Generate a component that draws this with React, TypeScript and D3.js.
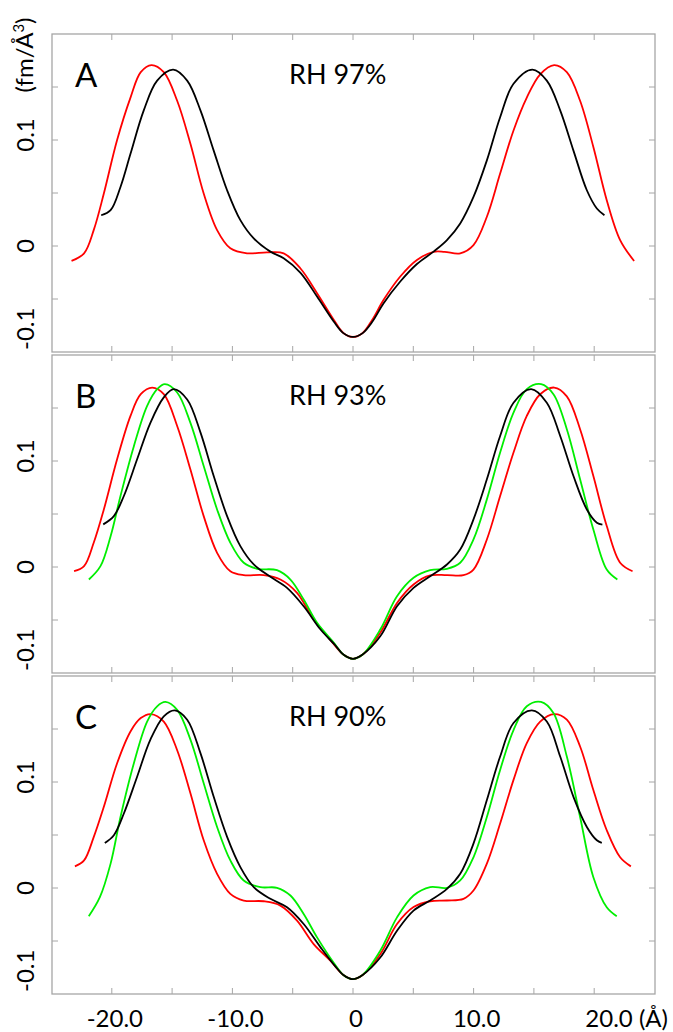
import React, { useEffect, useRef } from "react";
import * as d3 from "d3";

// axis ticks
const xTicks = [-20, -15, -10, -5, 0, 5, 10, 15, 20];
const xLabels = [
  { v: -20, t: "-20.0" },
  { v: -10, t: "-10.0" },
  { v: 0, t: "0" },
  { v: 10, t: "10.0" },
];
const yTicks = [-0.05, 0, 0.05, 0.1, 0.15];
const panelNames = ["A", "B", "C"];
const humidity = ["RH 97%", "RH 93%", "RH 90%"];

// profiles: [distance (Å), density (fm/Å³)]
const redA: [number, number][] = [
  [-23.34, -0.0141], [-22.3, -0.0069], [-21.5, 0.015], [-20.66, 0.0495], [-19.56, 0.1],
  [-18.45, 0.14], [-17.6, 0.164], [-16.71, 0.1707], [-15.69, 0.164], [-14.58, 0.137],
  [-13.48, 0.0965], [-12.38, 0.0495], [-11.27, 0.015], [-10.17, -0.0022], [-8.78, -0.0069],
  [-7.13, -0.006], [-5.75, -0.0069], [-4.37, -0.021], [-2.98, -0.0445], [-1.6, -0.0695],
  [-0.8, -0.082], [0, -0.0858], [0.8, -0.082], [1.6, -0.0695], [2.54, -0.0508],
  [3.92, -0.0288], [5.3, -0.0132], [6.68, -0.0055], [7.6, -0.0055], [8.89, -0.0069],
  [9.99, 0.0009], [11.1, 0.0276], [12.2, 0.0683], [13.31, 0.109], [14.41, 0.14],
  [15.52, 0.162], [16.68, 0.1707], [17.73, 0.164], [18.83, 0.137], [19.93, 0.0934],
  [21.04, 0.0432], [22.15, 0.0056], [23.31, -0.0141],
];
const blackA: [number, number][] = [
  [-20.88, 0.029], [-20.1, 0.0338], [-19.28, 0.0557], [-18.45, 0.087], [-17.35, 0.128],
  [-16.24, 0.156], [-14.91, 0.1664], [-13.75, 0.156], [-12.65, 0.128], [-11.55, 0.09],
  [-10.44, 0.0526], [-9.34, 0.0244], [-8.23, 0.0072], [-6.85, -0.0053], [-5.75, -0.0116],
  [-4.37, -0.0251], [-2.98, -0.0477], [-1.6, -0.0712], [-0.8, -0.0822], [0, -0.0858],
  [0.8, -0.0822], [1.6, -0.0715], [2.54, -0.054], [3.92, -0.0335], [5.3, -0.017],
  [6.68, -0.0053], [7.79, 0.0056], [8.89, 0.0213], [9.99, 0.0463], [11.1, 0.0808],
  [12.2, 0.1215], [13.31, 0.153], [14.88, 0.1664], [16.07, 0.156], [17.18, 0.128],
  [18.28, 0.09], [19.39, 0.0526], [20.22, 0.0354], [20.85, 0.029],
];

const redB: [number, number][] = [
  [-23.13, -0.004], [-22.3, 0.0008], [-21.5, 0.0229], [-20.66, 0.0543], [-19.56, 0.1016],
  [-18.45, 0.1425], [-17.6, 0.163], [-16.65, 0.1693], [-15.69, 0.163], [-14.58, 0.133],
  [-13.48, 0.092], [-12.38, 0.048], [-11.27, 0.0134], [-10.17, -0.004], [-9.06, -0.0077],
  [-7.4, -0.0077], [-6.02, -0.0118], [-4.64, -0.0244], [-3.26, -0.0496], [-1.88, -0.0688],
  [-0.8, -0.0826], [0, -0.0866], [0.8, -0.0826], [2.26, -0.062], [3.65, -0.0339],
  [5.02, -0.0165], [6.4, -0.008], [7.79, -0.0077], [9.16, -0.0077], [9.99, -0.0024],
  [11.1, 0.026], [12.2, 0.067], [13.31, 0.108], [14.41, 0.1425], [15.52, 0.163],
  [16.68, 0.1693], [17.73, 0.161], [18.83, 0.13], [19.93, 0.0858], [21.04, 0.0386],
  [22.15, 0.004], [23.18, -0.004],
];
const greenB: [number, number][] = [
  [-21.9, -0.0118], [-20.94, 0.0008], [-20.1, 0.029], [-19.28, 0.067], [-18.17, 0.114],
  [-17.07, 0.152], [-16.24, 0.1678], [-15.6, 0.1725], [-14.58, 0.1646], [-13.48, 0.136],
  [-12.38, 0.0953], [-11.27, 0.0543], [-10.17, 0.0229], [-9.06, 0.004], [-7.95, -0.0017],
  [-6.3, -0.003], [-5.19, -0.0118], [-4.09, -0.0307], [-2.98, -0.0527], [-1.6, -0.0712],
  [-0.8, -0.0826], [0, -0.0866], [0.8, -0.0826], [2.26, -0.059], [3.65, -0.0276],
  [5.02, -0.0102], [6.4, -0.003], [7.79, -0.0017], [8.89, 0.004], [9.99, 0.026],
  [11.1, 0.0638], [12.2, 0.108], [13.31, 0.1457], [14.41, 0.1678], [15.6, 0.1725],
  [16.62, 0.163], [17.73, 0.13], [18.83, 0.0827], [19.93, 0.0354], [21.04, -0.0024],
  [21.92, -0.0118],
];
const blackB: [number, number][] = [
  [-20.71, 0.0402], [-19.83, 0.048], [-19.0, 0.067], [-17.9, 0.1016], [-16.8, 0.136],
  [-15.69, 0.16], [-14.86, 0.1678], [-13.75, 0.158], [-12.65, 0.127], [-11.55, 0.0858],
  [-10.44, 0.048], [-9.34, 0.0197], [-8.23, 0.0024], [-6.85, -0.0093], [-5.47, -0.0197],
  [-4.09, -0.037], [-2.69, -0.059], [-1.5, -0.0735], [-0.8, -0.0826], [0, -0.0866],
  [0.8, -0.0826], [2.26, -0.0654], [3.65, -0.037], [5.02, -0.0197], [6.4, -0.0087],
  [7.79, 0.0024], [8.89, 0.0165], [9.99, 0.0449], [11.1, 0.0827], [12.2, 0.1236],
  [13.31, 0.155], [14.78, 0.1678], [16.07, 0.155], [17.18, 0.1236], [18.28, 0.0858],
  [19.39, 0.0543], [20.22, 0.0418], [20.68, 0.0399],
];

const redC: [number, number][] = [
  [-23.06, 0.0204], [-22.3, 0.026], [-21.5, 0.048], [-20.66, 0.0766], [-19.56, 0.1177],
  [-18.45, 0.1477], [-17.6, 0.1603], [-16.77, 0.1641], [-15.69, 0.157], [-14.58, 0.13],
  [-13.48, 0.0893], [-12.38, 0.045], [-11.27, 0.0134], [-10.17, -0.0055], [-9.06, -0.0118],
  [-7.4, -0.0125], [-6.02, -0.0166], [-4.64, -0.0308], [-3.26, -0.0529], [-1.88, -0.0685],
  [-0.8, -0.082], [0, -0.086], [0.8, -0.082], [2.26, -0.0624], [3.65, -0.034],
  [5.02, -0.018], [6.4, -0.0125], [7.79, -0.0118], [9.16, -0.0102], [9.99, -0.0024],
  [11.1, 0.023], [12.2, 0.0608], [13.31, 0.102], [14.41, 0.1367], [15.52, 0.157],
  [16.68, 0.1641], [17.73, 0.1588], [18.83, 0.1335], [19.93, 0.0924], [21.04, 0.0545],
  [22.15, 0.029], [23.04, 0.0204],
];
const greenC: [number, number][] = [
  [-21.91, -0.0267], [-20.99, -0.0087], [-20.1, 0.023], [-19.28, 0.067], [-18.17, 0.1177],
  [-17.07, 0.157], [-16.24, 0.1714], [-15.55, 0.1755], [-14.58, 0.168], [-13.48, 0.14],
  [-12.38, 0.0988], [-11.27, 0.0576], [-10.17, 0.026], [-9.06, 0.0071], [-7.68, 0.0008],
  [-6.3, 0.0002], [-5.19, -0.0071], [-4.09, -0.0245], [-2.98, -0.0466], [-1.6, -0.0705],
  [-0.8, -0.082], [0, -0.086], [0.8, -0.082], [2.26, -0.0592], [3.65, -0.0277],
  [5.02, -0.0071], [6.4, 0.0008], [7.79, 0.0002], [8.89, 0.0071], [9.99, 0.029],
  [11.1, 0.067], [12.2, 0.1114], [13.31, 0.149], [14.41, 0.1714], [15.59, 0.1755],
  [16.62, 0.165], [17.73, 0.124], [18.83, 0.067], [19.93, 0.0102], [21.04, -0.0182],
  [21.87, -0.0267],
];
const blackC: [number, number][] = [
  [-20.58, 0.0425], [-19.83, 0.0498], [-19.0, 0.0703], [-17.9, 0.105], [-16.8, 0.14],
  [-15.69, 0.162], [-14.78, 0.1676], [-13.75, 0.1588], [-12.65, 0.1272], [-11.55, 0.086],
  [-10.44, 0.0482], [-9.34, 0.0197], [-8.23, 0.0008], [-6.85, -0.0102], [-5.47, -0.0182],
  [-4.09, -0.034], [-2.69, -0.056], [-1.5, -0.0735], [-0.8, -0.082], [0, -0.086],
  [0.8, -0.082], [2.26, -0.0656], [3.65, -0.0403], [5.02, -0.0213], [6.4, -0.0118],
  [7.79, -0.0008], [8.89, 0.0134], [9.99, 0.0419], [11.1, 0.083], [12.2, 0.124],
  [13.31, 0.1556], [14.83, 0.1676], [16.07, 0.157], [17.18, 0.124], [18.28, 0.086],
  [19.39, 0.0576], [20.22, 0.045], [20.63, 0.0425],
];

const panels = [
  [{ d: redA, c: "#ff0000" }, { d: blackA, c: "#000000" }],
  [{ d: redB, c: "#ff0000" }, { d: greenB, c: "#00ee00" }, { d: blackB, c: "#000000" }],
  [{ d: redC, c: "#ff0000" }, { d: greenC, c: "#00ee00" }, { d: blackC, c: "#000000" }],
];

const W = 673;
const H = 1032;
const FONT = "Lato, 'Open Sans', sans-serif";

export default function App() {
  const svgRef = useRef<SVGSVGElement>(null);

  useEffect(() => {
    const svg = d3.select(svgRef.current);
    svg.selectAll("*").remove();

    const left = 52;
    const right = 655;
    const tops = [34, 355, 676];
    const ph = 318;
    const tickLen = 6;
    const frameColor = "#a6a6a6";

    const x = d3.scaleLinear().domain([-25, 25]).range([left - 0.5, right - 0.5]);

    panels.forEach((series, i) => {
      const top = tops[i];
      const bottom = top + ph;
      const y = d3.scaleLinear().domain([-0.1, 0.2]).range([bottom, top]);
      const g = svg.append("g");

      // frame
      g.append("rect")
        .attr("x", left)
        .attr("y", top)
        .attr("width", right - left)
        .attr("height", ph)
        .attr("fill", "none")
        .attr("stroke", frameColor)
        .attr("stroke-width", 1.3);

      // inward ticks on all four sides
      xTicks.forEach((t) => {
        g.append("line")
          .attr("x1", x(t)).attr("x2", x(t))
          .attr("y1", top).attr("y2", top + tickLen)
          .attr("stroke", frameColor);
        g.append("line")
          .attr("x1", x(t)).attr("x2", x(t))
          .attr("y1", bottom).attr("y2", bottom - tickLen)
          .attr("stroke", frameColor);
      });
      yTicks.forEach((t) => {
        g.append("line")
          .attr("x1", left).attr("x2", left + tickLen)
          .attr("y1", y(t)).attr("y2", y(t))
          .attr("stroke", frameColor);
        g.append("line")
          .attr("x1", right).attr("x2", right - tickLen)
          .attr("y1", y(t)).attr("y2", y(t))
          .attr("stroke", frameColor);
      });

      // y labels, rotated
      const yl = [
        { v: 0.1, t: "0.1", anchor: "middle", dy: -5 },
        { v: 0, t: "0", anchor: "middle", dy: 0 },
        { v: -0.1, t: "-0.1", anchor: "start", dy: -2 },
      ];
      yl.forEach((l) => {
        g.append("text")
          .attr("transform", `translate(34, ${y(l.v) + l.dy}) rotate(-90)`)
          .attr("text-anchor", l.anchor)
          .attr("font-family", FONT)
          .attr("font-size", 24)
          .attr("fill", "#000")
          .text(l.t);
      });

      // curves
      const line = d3
        .line<[number, number]>()
        .x((d) => x(d[0]))
        .y((d) => y(d[1]))
        .curve(d3.curveCatmullRom.alpha(0.5));
      series.forEach((s) => {
        g.append("path")
          .attr("d", line(s.d))
          .attr("fill", "none")
          .attr("stroke", s.c)
          .attr("stroke-width", 1.8);
      });

      g.append("text")
        .attr("x", 75)
        .attr("y", top + 53)
        .attr("font-family", FONT)
        .attr("font-size", 33)
        .text(panelNames[i]);

      g.append("text")
        .attr("x", 289)
        .attr("y", top + 50)
        .attr("font-family", FONT)
        .attr("font-size", 27)
        .text(humidity[i]);
    });

    // x labels under the last panel
    const xl = svg.append("g");
    xLabels.forEach((l) => {
      xl.append("text")
        .attr("x", x(l.v) + 3)
        .attr("y", 1027)
        .attr("text-anchor", "middle")
        .attr("font-family", FONT)
        .attr("font-size", 24)
        .text(l.t);
    });
    xl.append("text")
      .attr("x", 668)
      .attr("y", 1027)
      .attr("text-anchor", "end")
      .attr("font-family", FONT)
      .attr("font-size", 24)
      .text("20.0 (Å)");

    // y title
    const title = svg
      .append("text")
      .attr("transform", "translate(33, 55) rotate(-90)")
      .attr("text-anchor", "middle")
      .attr("font-family", FONT)
      .attr("font-size", 24);
    title.append("tspan").text("(fm/Å");
    title.append("tspan").attr("font-size", 15).attr("dy", -9).text("3");
    title.append("tspan").attr("dy", 9).text(")");
  }, []);

  return (
    <svg
      ref={svgRef}
      width={W}
      height={H}
      style={{ position: "absolute", left: 0, top: 0, background: "#fff" }}
    />
  );
}
